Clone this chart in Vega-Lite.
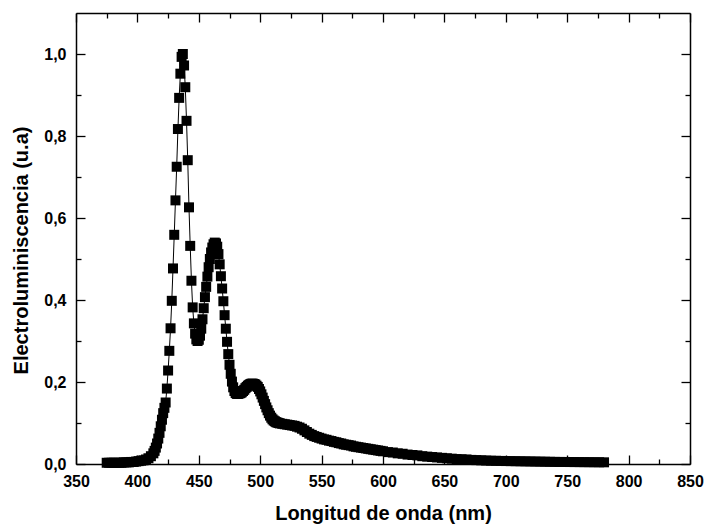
{
  "$schema": "https://vega.github.io/schema/vega-lite/v6.json",
  "width": 614,
  "height": 451,
  "autosize": {"type": "none"},
  "padding": {"left": 76, "top": 13, "right": 14, "bottom": 61},
  "background": "white",
  "config": {
    "view": {"stroke": null},
    "axis": {
      "labelFont": "Liberation Sans",
      "titleFont": "Liberation Sans",
      "labelFontWeight": "bold",
      "titleFontWeight": "bold",
      "labelColor": "black",
      "titleColor": "black",
      "domainColor": "black",
      "tickColor": "black",
      "labelFontSize": 16,
      "titleFontSize": 20,
      "grid": false,
      "domainWidth": 1.5,
      "tickWidth": 1.3
    }
  },
  "data": {
    "values": [
      {"x": 375, "y": 0.003}, {"x": 377, "y": 0.003}, {"x": 379, "y": 0.003}, {"x": 381, "y": 0.003},
      {"x": 383, "y": 0.003}, {"x": 385, "y": 0.003}, {"x": 387, "y": 0.003}, {"x": 389, "y": 0.004},
      {"x": 391, "y": 0.004}, {"x": 393, "y": 0.004}, {"x": 395, "y": 0.005}, {"x": 397, "y": 0.005},
      {"x": 399, "y": 0.006}, {"x": 401, "y": 0.007}, {"x": 403, "y": 0.008}, {"x": 405, "y": 0.009},
      {"x": 407, "y": 0.011}, {"x": 409, "y": 0.014}, {"x": 411, "y": 0.019}, {"x": 413, "y": 0.026},
      {"x": 414, "y": 0.032}, {"x": 415, "y": 0.04}, {"x": 416, "y": 0.05}, {"x": 417, "y": 0.062},
      {"x": 418, "y": 0.076}, {"x": 419, "y": 0.092}, {"x": 420, "y": 0.108}, {"x": 421, "y": 0.124},
      {"x": 422, "y": 0.137}, {"x": 423, "y": 0.15}, {"x": 424, "y": 0.184}, {"x": 425, "y": 0.228},
      {"x": 426, "y": 0.276}, {"x": 427, "y": 0.331}, {"x": 428, "y": 0.398}, {"x": 429, "y": 0.477},
      {"x": 430, "y": 0.559}, {"x": 431, "y": 0.643}, {"x": 432, "y": 0.725}, {"x": 433, "y": 0.817},
      {"x": 434, "y": 0.893}, {"x": 435, "y": 0.952}, {"x": 436, "y": 0.993}, {"x": 437, "y": 1.0},
      {"x": 438, "y": 0.972}, {"x": 439, "y": 0.919}, {"x": 440, "y": 0.837}, {"x": 441, "y": 0.741},
      {"x": 442, "y": 0.626}, {"x": 443, "y": 0.532}, {"x": 444, "y": 0.447}, {"x": 445, "y": 0.382},
      {"x": 446, "y": 0.343}, {"x": 447, "y": 0.318}, {"x": 448, "y": 0.304}, {"x": 449, "y": 0.3},
      {"x": 450, "y": 0.303}, {"x": 451, "y": 0.313}, {"x": 452, "y": 0.33}, {"x": 453, "y": 0.353},
      {"x": 454, "y": 0.38}, {"x": 455, "y": 0.407}, {"x": 456, "y": 0.432}, {"x": 457, "y": 0.457},
      {"x": 458, "y": 0.48}, {"x": 459, "y": 0.5}, {"x": 460, "y": 0.516}, {"x": 461, "y": 0.528},
      {"x": 462, "y": 0.536}, {"x": 463, "y": 0.54}, {"x": 464, "y": 0.538}, {"x": 465, "y": 0.53},
      {"x": 466, "y": 0.512}, {"x": 467, "y": 0.487}, {"x": 468, "y": 0.458}, {"x": 469, "y": 0.428},
      {"x": 470, "y": 0.397}, {"x": 471, "y": 0.363}, {"x": 472, "y": 0.33}, {"x": 473, "y": 0.298},
      {"x": 474, "y": 0.268}, {"x": 475, "y": 0.242}, {"x": 476, "y": 0.22}, {"x": 477, "y": 0.201},
      {"x": 478, "y": 0.187}, {"x": 479, "y": 0.178}, {"x": 480, "y": 0.173}, {"x": 481, "y": 0.171},
      {"x": 482, "y": 0.171}, {"x": 483, "y": 0.172}, {"x": 484, "y": 0.173}, {"x": 485, "y": 0.175},
      {"x": 486, "y": 0.178}, {"x": 487, "y": 0.181}, {"x": 488, "y": 0.185}, {"x": 489, "y": 0.188},
      {"x": 490, "y": 0.191}, {"x": 491, "y": 0.193}, {"x": 492, "y": 0.195}, {"x": 493, "y": 0.196},
      {"x": 494, "y": 0.196}, {"x": 495, "y": 0.195}, {"x": 496, "y": 0.194}, {"x": 497, "y": 0.191},
      {"x": 498, "y": 0.188}, {"x": 499, "y": 0.183}, {"x": 500, "y": 0.177}, {"x": 501, "y": 0.17},
      {"x": 502, "y": 0.162}, {"x": 503, "y": 0.154}, {"x": 504, "y": 0.146}, {"x": 505, "y": 0.138},
      {"x": 506, "y": 0.131}, {"x": 507, "y": 0.124}, {"x": 508, "y": 0.118}, {"x": 509, "y": 0.113},
      {"x": 510, "y": 0.109}, {"x": 511, "y": 0.106}, {"x": 512, "y": 0.104}, {"x": 513, "y": 0.102},
      {"x": 514, "y": 0.101}, {"x": 515, "y": 0.1}, {"x": 516, "y": 0.099}, {"x": 518, "y": 0.098},
      {"x": 520, "y": 0.097}, {"x": 522, "y": 0.096}, {"x": 524, "y": 0.095}, {"x": 526, "y": 0.094},
      {"x": 528, "y": 0.093}, {"x": 530, "y": 0.091}, {"x": 532, "y": 0.089}, {"x": 534, "y": 0.086},
      {"x": 536, "y": 0.082}, {"x": 538, "y": 0.078}, {"x": 540, "y": 0.074}, {"x": 542, "y": 0.071},
      {"x": 544, "y": 0.068}, {"x": 546, "y": 0.066}, {"x": 548, "y": 0.064}, {"x": 550, "y": 0.062},
      {"x": 552, "y": 0.06}, {"x": 554, "y": 0.059}, {"x": 556, "y": 0.057}, {"x": 558, "y": 0.056},
      {"x": 560, "y": 0.054}, {"x": 562, "y": 0.053}, {"x": 564, "y": 0.051}, {"x": 566, "y": 0.05},
      {"x": 568, "y": 0.048}, {"x": 570, "y": 0.047}, {"x": 572, "y": 0.046}, {"x": 574, "y": 0.045},
      {"x": 576, "y": 0.043}, {"x": 578, "y": 0.042}, {"x": 580, "y": 0.041}, {"x": 582, "y": 0.04},
      {"x": 584, "y": 0.039}, {"x": 586, "y": 0.038}, {"x": 588, "y": 0.037}, {"x": 590, "y": 0.036},
      {"x": 592, "y": 0.035}, {"x": 594, "y": 0.034}, {"x": 596, "y": 0.033}, {"x": 598, "y": 0.032},
      {"x": 600, "y": 0.031}, {"x": 604, "y": 0.029}, {"x": 608, "y": 0.028}, {"x": 612, "y": 0.026},
      {"x": 616, "y": 0.025}, {"x": 620, "y": 0.023}, {"x": 624, "y": 0.022}, {"x": 628, "y": 0.021},
      {"x": 632, "y": 0.019}, {"x": 636, "y": 0.018}, {"x": 640, "y": 0.017}, {"x": 644, "y": 0.016},
      {"x": 648, "y": 0.015}, {"x": 652, "y": 0.014}, {"x": 656, "y": 0.013}, {"x": 660, "y": 0.012},
      {"x": 664, "y": 0.0115}, {"x": 668, "y": 0.011}, {"x": 672, "y": 0.01}, {"x": 676, "y": 0.0095},
      {"x": 680, "y": 0.009}, {"x": 684, "y": 0.0085}, {"x": 688, "y": 0.008}, {"x": 692, "y": 0.0078},
      {"x": 696, "y": 0.0075}, {"x": 700, "y": 0.0072}, {"x": 704, "y": 0.007}, {"x": 708, "y": 0.0068},
      {"x": 712, "y": 0.0066}, {"x": 716, "y": 0.0064}, {"x": 720, "y": 0.0062}, {"x": 724, "y": 0.006},
      {"x": 728, "y": 0.0058}, {"x": 732, "y": 0.0056}, {"x": 736, "y": 0.0054}, {"x": 740, "y": 0.0052},
      {"x": 744, "y": 0.005}, {"x": 748, "y": 0.005}, {"x": 752, "y": 0.0048}, {"x": 756, "y": 0.0047},
      {"x": 760, "y": 0.0046}, {"x": 764, "y": 0.0045}, {"x": 768, "y": 0.0044}, {"x": 772, "y": 0.0043},
      {"x": 776, "y": 0.0042}, {"x": 780, "y": 0.0041}
    ]
  },
  "layer": [
    {
      "mark": {"type": "line", "color": "black", "strokeWidth": 1},
      "encoding": {
        "x": {
          "field": "x", "type": "quantitative",
          "scale": {"domain": [350, 850], "nice": false, "zero": false},
          "axis": {
            "orient": "bottom",
            "values": [350, 400, 450, 500, 550, 600, 650, 700, 750, 800, 850],
            "tickSize": -9,
            "labelPadding": 18,
            "labelFlush": false,
            "labelOverlap": false,
            "title": "Longitud de onda (nm)",
            "titlePadding": 14
          }
        },
        "y": {
          "field": "y", "type": "quantitative",
          "scale": {"domain": [0, 1.1], "nice": false, "zero": false},
          "axis": {
            "orient": "left",
            "values": [0, 0.2, 0.4, 0.6, 0.8, 1.0],
            "tickSize": -9,
            "labelPadding": 19,
            "labelFlush": false,
            "labelOverlap": false,
            "labelExpr": "replace(format(datum.value, '.1f'), '.', ',')",
            "title": "Electroluminiscencia (u.a)",
            "titlePadding": 12,
            "titleY": 237
          }
        }
      }
    },
    {
      "mark": {"type": "square", "color": "black", "opacity": 1, "size": 100},
      "encoding": {
        "x": {"field": "x", "type": "quantitative", "axis": null},
        "y": {"field": "y", "type": "quantitative", "axis": null}
      }
    },
    {
      "data": {"values": [{"x": 350, "y": 0}]},
      "mark": {"type": "point", "opacity": 0},
      "encoding": {
        "x": {
          "field": "x", "type": "quantitative",
          "axis": {"orient": "top", "values": [350, 400, 450, 500, 550, 600, 650, 700, 750, 800, 850], "tickSize": -9, "labels": false, "title": null}
        },
        "y": {
          "field": "y", "type": "quantitative",
          "axis": {"orient": "right", "values": [0, 0.2, 0.4, 0.6, 0.8, 1.0], "tickSize": -9, "labels": false, "title": null}
        }
      }
    },
    {
      "data": {"values": [{"x": 350, "y": 0}]},
      "mark": {"type": "point", "opacity": 0},
      "encoding": {
        "x": {
          "field": "x", "type": "quantitative",
          "axis": {"orient": "bottom", "values": [375, 425, 475, 525, 575, 625, 675, 725, 775, 825], "tickSize": -5, "labels": false, "domain": false, "title": null}
        },
        "y": {
          "field": "y", "type": "quantitative",
          "axis": {"orient": "left", "values": [0.1, 0.3, 0.5, 0.7, 0.9], "tickSize": -5, "labels": false, "domain": false, "title": null}
        }
      }
    },
    {
      "data": {"values": [{"x": 350, "y": 0}]},
      "mark": {"type": "point", "opacity": 0},
      "encoding": {
        "x": {
          "field": "x", "type": "quantitative",
          "axis": {"orient": "top", "values": [375, 425, 475, 525, 575, 625, 675, 725, 775, 825], "tickSize": -5, "labels": false, "domain": false, "title": null}
        },
        "y": {
          "field": "y", "type": "quantitative",
          "axis": {"orient": "right", "values": [0.1, 0.3, 0.5, 0.7, 0.9], "tickSize": -5, "labels": false, "domain": false, "title": null}
        }
      }
    }
  ],
  "resolve": {"axis": {"x": "independent", "y": "independent"}}
}
